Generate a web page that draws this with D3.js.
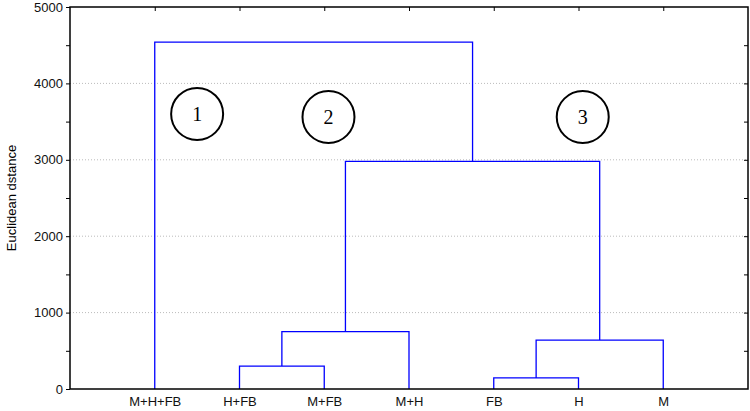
<!DOCTYPE html><html><head><meta charset="utf-8"><script src="https://d3js.org/d3.v7.min.js"></script>
<style>body{margin:0;background:#fff}</style></head><body><svg id="c" width="750" height="411"></svg>
<script>
const leaves = ["M+H+FB","H+FB","M+FB","M+H","FB","H","M"];
const merges = [
  ["H+FB","M+FB",300],
  ["#0","M+H",750],
  ["FB","H",145],
  ["#2","M",640],
  ["#1","#3",2980],
  ["M+H+FB","#4",4540]
];
const yTicks = [0,1000,2000,3000,4000,5000];
const labels = [{t:"1",x:1.5,y:3600},{t:"2",x:3.05,y:3560},{t:"3",x:6.05,y:3560}];

const svg = d3.select("#c");
const L=70,R=748,T=7,B=389;
const x = d3.scaleLinear().domain([0,8]).range([L,R]);
const y = d3.scaleLinear().domain([0,5000]).range([B,T]);
const g = svg.append("g");
g.selectAll(".gr").data(yTicks.slice(1,5)).join("line").attr("x1",L).attr("x2",R)
 .attr("y1",d=>y(d)).attr("y2",d=>y(d)).attr("stroke","#bbb").attr("stroke-dasharray","1,2");
const ax=d3.axisLeft(y).tickValues(d3.range(0,5001,500)).tickSize(4).tickFormat(d=>d%1000===0?d:"");
svg.append("g").attr("transform",`translate(${L},0)`).call(ax).call(s=>{s.select(".domain").remove();s.selectAll("text").attr("font-size",13).attr("font-family","Liberation Sans").attr("fill","#111")});
const axR=d3.axisLeft(y).tickValues(d3.range(500,5000,500)).tickSize(4).tickFormat("");
svg.append("g").attr("transform",`translate(${R},0)`).call(axR).call(s=>s.select(".domain").remove());
const axB=d3.axisBottom(x).tickValues(d3.range(1,8)).tickSize(0).tickPadding(8).tickFormat(i=>leaves[i-1]);
svg.append("g").attr("transform",`translate(0,${B})`).call(axB).call(s=>{s.select(".domain").remove();s.selectAll("text").attr("font-size",13).attr("font-family","Liberation Sans").attr("fill","#111")});
const axT=d3.axisBottom(x).tickValues(d3.range(1,8)).tickSize(4).tickFormat("");
svg.append("g").attr("transform",`translate(0,${T})`).call(axT).call(s=>s.select(".domain").remove());
svg.append("rect").attr("x",L).attr("y",T).attr("width",R-L).attr("height",B-T).attr("fill","none").attr("stroke","#000").attr("stroke-width",1.5);
const pos={};leaves.forEach((l,i)=>pos[l]={x:i+1,h:0});
merges.forEach((m,i)=>{
  const a=pos[m[0]],b=pos[m[1]],h=m[2];
  g.append("path").attr("d",`M${x(a.x)},${y(a.h)}V${y(h)}H${x(b.x)}V${y(b.h)}`)
   .attr("fill","none").attr("stroke","#0000ff").attr("stroke-width",1.3);
  pos["#"+i]={x:(a.x+b.x)/2,h};
});
labels.forEach(l=>{
  svg.append("circle").attr("cx",x(l.x)).attr("cy",y(l.y)).attr("r",26).attr("fill","none").attr("stroke","#000").attr("stroke-width",2);
  svg.append("text").attr("x",x(l.x)).attr("y",y(l.y)+7).attr("text-anchor","middle").attr("font-family","Liberation Serif").attr("font-size",20).text(l.t);
});
svg.append("text").attr("transform",`translate(16,${(T+B)/2}) rotate(-90)`).attr("text-anchor","middle")
 .attr("font-family","Liberation Sans").attr("font-size",13).text("Euclidean dstance");
</script></body></html>
